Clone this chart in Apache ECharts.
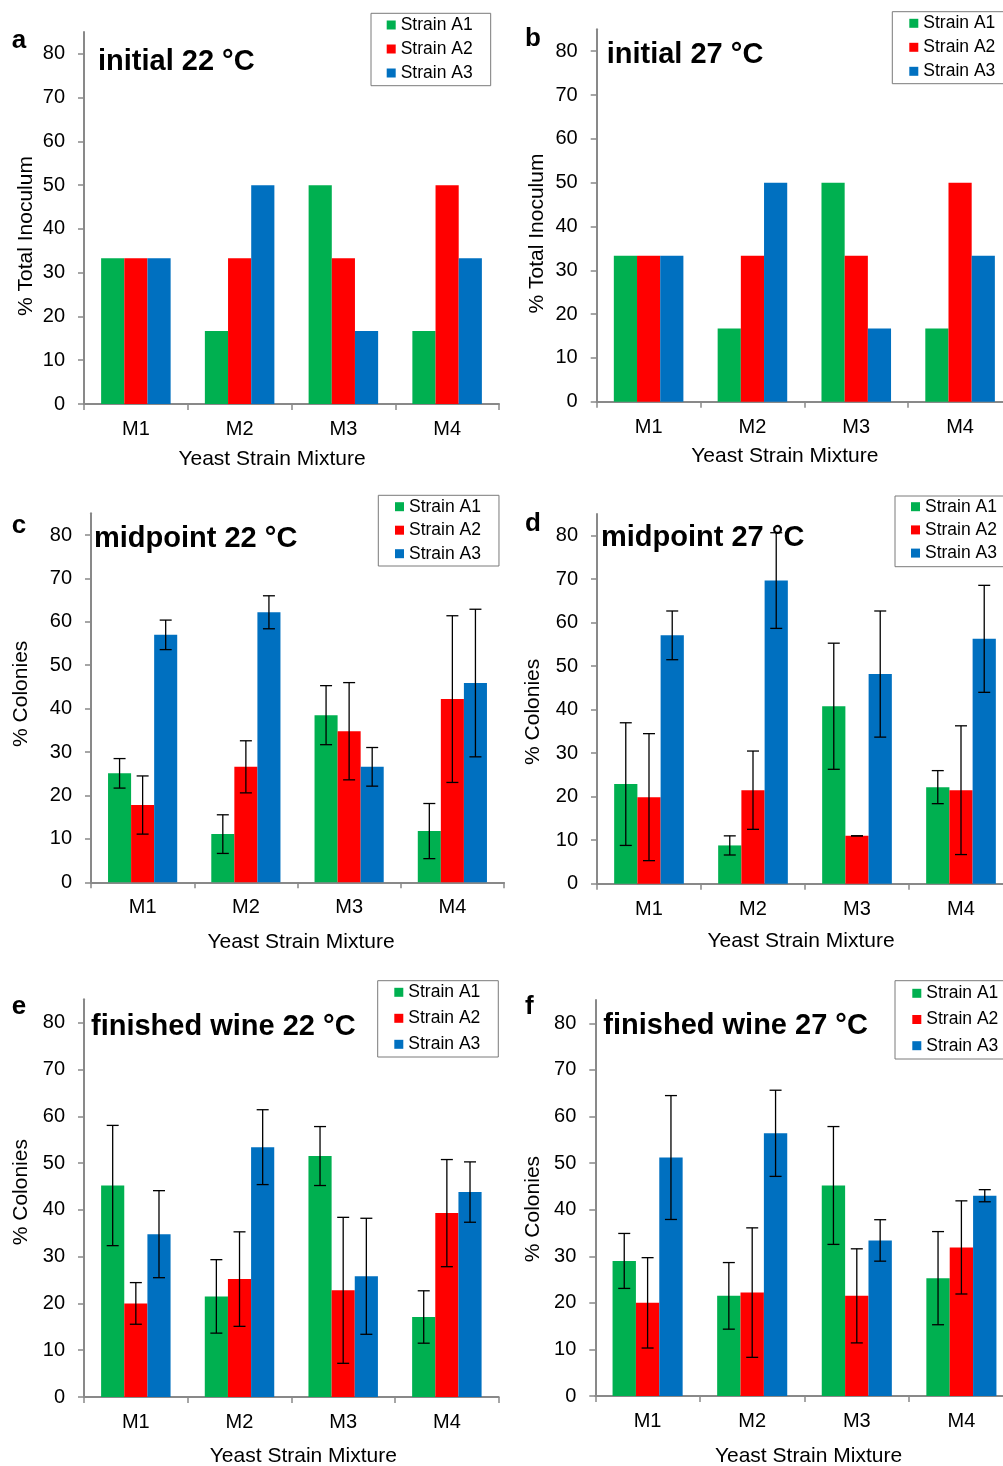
<!DOCTYPE html>
<html>
<head>
<meta charset="utf-8">
<script src="https://cdn.jsdelivr.net/npm/echarts@6/dist/echarts.min.js"></script>
<style>
html,body{margin:0;padding:0;background:#fff;}
#chart{width:1003px;height:1466px;}
</style>
</head>
<body>
<div id="chart"></div>
<script>
// ---------- data ----------
const categories = ['M1', 'M2', 'M3', 'M4'];
const strainNames = ['Strain A1', 'Strain A2', 'Strain A3'];
const yTickValues = [0, 10, 20, 30, 40, 50, 60, 70, 80];
const panelLetters = ['a', 'b', 'c', 'd', 'e', 'f'];
const panelTitles = ['initial 22 °C', 'initial 27 °C', 'midpoint 22 °C', 'midpoint 27 °C', 'finished wine 22 °C', 'finished wine 27 °C'];
const yAxisNames = ['% Total Inoculum', '% Total Inoculum', '% Colonies', '% Colonies', '% Colonies', '% Colonies'];
const xAxisName = 'Yeast Strain Mixture';

// initial inoculum (no error bars)
const init22_A1 = [33.3, 16.7, 50, 16.7];
const init22_A2 = [33.3, 33.3, 33.3, 50];
const init22_A3 = [33.3, 50, 16.7, 33.3];
const init27_A1 = [33.3, 16.7, 50, 16.7];
const init27_A2 = [33.3, 33.3, 33.3, 50];
const init27_A3 = [33.3, 50, 16.7, 33.3];

// midpoint 22 °C
const mid22_A1 = [25.1, 11.1, 38.5, 11.8];
const mid22_A2 = [17.8, 26.6, 34.8, 42.2];
const mid22_A3 = [57.0, 62.2, 26.6, 45.9];
const mid22_A1_err = [3.4, 4.45, 6.8, 6.35];
const mid22_A2_err = [6.7, 6.0, 11.2, 19.2];
const mid22_A3_err = [3.4, 3.8, 4.45, 17.0];

// midpoint 27 °C
const mid27_A1 = [22.9, 8.8, 40.8, 22.2];
const mid27_A2 = [19.9, 21.5, 11.0, 21.5];
const mid27_A3 = [57.1, 69.7, 48.2, 56.3];
const mid27_A1_err = [14.1, 2.2, 14.5, 3.8];
const mid27_A2_err = [14.6, 9.0, 0, 14.8];
const mid27_A3_err = [5.6, 11.0, 14.5, 12.3];

// finished wine 22 °C
const fin22_A1 = [45.2, 21.5, 51.5, 17.1];
const fin22_A2 = [20.0, 25.2, 22.8, 39.3];
const fin22_A3 = [34.8, 53.4, 25.8, 43.8];
const fin22_A1_err = [12.85, 7.85, 6.3, 5.6];
const fin22_A2_err = [4.45, 10.1, 15.6, 11.45];
const fin22_A3_err = [9.3, 8.0, 12.4, 6.45];

// finished wine 27 °C
const fin27_A1 = [29.0, 21.5, 45.2, 25.3];
const fin27_A2 = [20.0, 22.2, 21.5, 31.9];
const fin27_A3 = [51.2, 56.4, 33.4, 43.0];
const fin27_A1_err = [5.9, 7.15, 12.65, 10.0];
const fin27_A2_err = [9.7, 13.9, 10.1, 10.0];
const fin27_A3_err = [13.3, 9.25, 4.45, 1.3];

const panelValues = [
  [init22_A1, init22_A2, init22_A3],
  [init27_A1, init27_A2, init27_A3],
  [mid22_A1, mid22_A2, mid22_A3],
  [mid27_A1, mid27_A2, mid27_A3],
  [fin22_A1, fin22_A2, fin22_A3],
  [fin27_A1, fin27_A2, fin27_A3]
];
const panelErrors = [
  null,
  null,
  [mid22_A1_err, mid22_A2_err, mid22_A3_err],
  [mid27_A1_err, mid27_A2_err, mid27_A3_err],
  [fin22_A1_err, fin22_A2_err, fin22_A3_err],
  [fin27_A1_err, fin27_A2_err, fin27_A3_err]
];

// ---------- layout & style ----------
const FONT = '"Liberation Sans", Arial, Helvetica, sans-serif';
const strainColors = ['#00B050', '#FF0000', '#0070C0'];
const AXIS_COLOR = '#898989';
const BAR_CAT_GAP = 0.33;

const layout = [
  { grid: [84, 32, 415, 372], letter: [11.7, 27.5], title: [98, 47],
    xGap: 45, xPad: [0, 39, 0, 0], yGap: 47.5, yPad: [0, 36, 0, 0],
    legend: { left: 371, top: 13.3, pad: [2.7, 18, 3.7, 15.7], gap: 6 } },
  { grid: [596.7, 29.3, 415.3, 372.4], letter: [525, 26], title: [606.7, 40.3],
    xGap: 44.5, xPad: [0, 39, 0, 0], yGap: 48.5, yPad: [0, 36, 0, 0],
    legend: { left: 892.3, top: 11.7, pad: [2.6, 8.7, 3.4, 17], gap: 6 } },
  { grid: [91, 513.3, 413, 369], letter: [11.7, 512.5], title: [94, 524.3],
    xGap: 49, xPad: [0, 0, 0, 7], yGap: 59.5, yPad: [0, 0, 0, 8],
    legend: { left: 378.3, top: 495.3, pad: [2.4, 18, 3.3, 16.7], gap: 5.5 } },
  { grid: [597, 514, 416, 369.7], letter: [525, 511], title: [601, 523.7],
    xGap: 47, xPad: [0, 8, 0, 0], yGap: 53, yPad: [0, 26, 0, 0],
    legend: { left: 895, top: 496, pad: [1.7, 8, 4.6, 16], gap: 5.2 } },
  { grid: [84, 999.3, 414.7, 397.7], letter: [11.7, 994.3], title: [91, 1012],
    xGap: 48.5, xPad: [0, 0, 0, 24], yGap: 52.5, yPad: [0, 0, 0, 12],
    legend: { left: 377.7, top: 980.7, pad: [2.6, 18, 3.7, 16.6], gap: 8 } },
  { grid: [595.3, 1000.1, 418.4, 395.9], letter: [525, 993.5], title: [603.3, 1011.3],
    xGap: 49.5, xPad: [0, 0, 0, 8], yGap: 51.4, yPad: [0, 22, 0, 0],
    legend: { left: 895, top: 980.7, pad: [3.6, 8, 4.3, 17.3], gap: 8.2 } }
];

function renderErr(params, api) {
  const cat = api.value(0), s = api.value(1), lo = api.value(2), hi = api.value(3);
  const pLo = api.coord([cat, lo]);
  const pHi = api.coord([cat, hi]);
  const band = api.size([1, 0])[0];
  const bw = band * (1 - BAR_CAT_GAP) / 3;
  const x = pLo[0] + (s - 1) * bw;
  const cap = 6;
  const st = { stroke: '#000', lineWidth: 1.3 };
  return {
    type: 'group',
    children: [
      { type: 'line', shape: { x1: x, y1: pHi[1], x2: x, y2: pLo[1] }, style: st },
      { type: 'line', shape: { x1: x - cap, y1: pHi[1], x2: x + cap, y2: pHi[1] }, style: st },
      { type: 'line', shape: { x1: x - cap, y1: pLo[1], x2: x + cap, y2: pLo[1] }, style: st }
    ]
  };
}

const option = {
  animation: false,
  backgroundColor: '#fff',
  title: [], grid: [], xAxis: [], yAxis: [], legend: [], series: []
};

layout.forEach((L, i) => {
  option.grid.push({
    left: L.grid[0], top: L.grid[1], width: L.grid[2], height: L.grid[3],
    containLabel: false, outerBoundsMode: 'none'
  });
  option.title.push({
    text: panelLetters[i], left: L.letter[0], top: L.letter[1], padding: 0,
    textStyle: { fontSize: 26, fontWeight: 'bold', color: '#000', fontFamily: FONT }
  });
  option.title.push({
    text: panelTitles[i], left: L.title[0], top: L.title[1], padding: 0,
    textStyle: { fontSize: 29, fontWeight: 'bold', color: '#000', fontFamily: FONT }
  });
  option.xAxis.push({
    type: 'category', gridIndex: i, data: categories,
    axisLine: { show: true, onZero: false, lineStyle: { color: AXIS_COLOR, width: 2 } },
    axisTick: { show: true, length: 6, interval: 0, alignWithLabel: false, lineStyle: { color: AXIS_COLOR, width: 1.5 } },
    axisLabel: { show: true, interval: 0, margin: 15.5, fontSize: 20, color: '#000', fontFamily: FONT },
    splitLine: { show: false },
    name: xAxisName, nameLocation: 'middle', nameGap: L.xGap, nameMoveOverlap: false,
    nameTextStyle: { fontSize: 21, color: '#000', fontFamily: FONT, padding: L.xPad }
  });
  option.yAxis.push({
    type: 'value', gridIndex: i, min: 0, max: 85, interval: 10,
    axisLine: { show: true, lineStyle: { color: AXIS_COLOR, width: 2 } },
    axisTick: { show: true, length: 6, customValues: yTickValues, lineStyle: { color: AXIS_COLOR, width: 1.5 } },
    axisLabel: { show: true, customValues: yTickValues, margin: 19, fontSize: 20, color: '#000', fontFamily: FONT },
    splitLine: { show: false },
    name: yAxisNames[i], nameLocation: 'middle', nameRotate: 90, nameGap: L.yGap, nameMoveOverlap: false,
    nameTextStyle: { fontSize: 21, color: '#000', fontFamily: FONT, padding: L.yPad }
  });
  option.legend.push({
    data: strainNames, orient: 'vertical', left: L.legend.left, top: L.legend.top,
    padding: L.legend.pad, itemGap: L.legend.gap, icon: 'rect', itemWidth: 9, itemHeight: 9,
    borderColor: '#7a7a7a', borderWidth: 1, backgroundColor: '#fff', selectedMode: false,
    textStyle: { fontSize: 17.5, color: '#000', fontFamily: FONT }
  });
  panelValues[i].forEach((vals, j) => {
    option.series.push({
      type: 'bar', name: strainNames[j], xAxisIndex: i, yAxisIndex: i,
      data: vals, barGap: '0%', barCategoryGap: (BAR_CAT_GAP * 100) + '%',
      itemStyle: { color: strainColors[j] }, silent: true
    });
  });
  if (panelErrors[i]) {
    const errData = [];
    panelErrors[i].forEach((errs, j) => {
      errs.forEach((e, c) => {
        const m = panelValues[i][j][c];
        errData.push([c, j, m - e, m + e]);
      });
    });
    option.series.push({
      type: 'custom', name: 'error', xAxisIndex: i, yAxisIndex: i,
      renderItem: renderErr, data: errData, z: 10, silent: true,
      encode: { x: 0, y: [2, 3] }
    });
  }
});

const chart = echarts.init(document.getElementById('chart'), null, { renderer: 'canvas' });
chart.setOption(option);
</script>
</body>
</html>
